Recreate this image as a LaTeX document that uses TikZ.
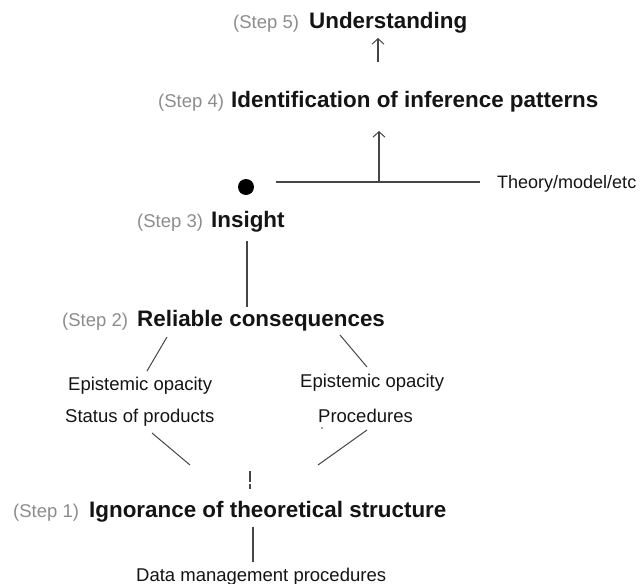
\documentclass[tikz,border=0pt]{standalone}
\usepackage{fontspec}
\setmainfont{Liberation Sans}
\usetikzlibrary{arrows.meta}
\definecolor{stepgray}{RGB}{140,140,140}
\definecolor{ink}{RGB}{20,20,20}
\definecolor{linegray}{RGB}{70,70,70}
\tikzset{
  steplbl/.style={anchor=base west, inner sep=0pt, text=stepgray, font=\fontsize{18.5}{22}\selectfont},
  title/.style={anchor=base west, inner sep=0pt, text=ink, font=\fontsize{22.4}{26}\selectfont\bfseries},
  plain/.style={anchor=base west, inner sep=0pt, text=ink, font=\fontsize{18.5}{22}\selectfont},
  conn/.style={draw=linegray, line width=1.2pt},
  arr/.style={conn, -{Straight Barb[length=5.5pt,width=12pt,line width=1pt]}}
}
\begin{document}
\begin{tikzpicture}[x=1pt,y=-1pt]
\useasboundingbox (0,0) rectangle (641,584);
% Step 5
\node[steplbl] (s5) at (233,28) {(Step 5)};
\node[title] (t5) at (309,28) {Understanding};
% Step 4
\node[steplbl] (s4) at (158,107) {(Step 4)};
\node[title] (t4) at (231,107) {Identification of inference patterns};
% Theory
\node[plain, font=\fontsize{18}{22}\selectfont] (th) at (497,188) {Theory/model/etc};
\fill[black] (246,187) circle[radius=8pt];
% Step 3
\node[steplbl] (s3) at (137,227) {(Step 3)};
\node[title] (t3) at (211,227) {Insight};
% Step 2
\node[steplbl] (s2) at (62,326) {(Step 2)};
\node[title] (t2) at (137,326) {Reliable consequences};
% opacity
\node[plain] (el) at (68,390) {Epistemic opacity};
\node[plain] (sp) at (65,422) {Status of products};
\node[plain] (er) at (300,387) {Epistemic opacity};
\node[plain] (pr) at (318,422) {Procedures};
% Step 1
\node[steplbl] (s1) at (13,517) {(Step 1)};
\node[title] (t1) at (89,517) {Ignorance of theoretical structure};
\node[plain] (dm) at (136,581) {Data management procedures};

% coordinates
\coordinate (a5b) at (378,62);
\coordinate (a5t) at (378,38);
\coordinate (a4b) at (379,182);
\coordinate (a4t) at (379,131);
\coordinate (hl) at (276,182);
\coordinate (hr) at (480,182);
\coordinate (i1) at (247,241);
\coordinate (i2) at (247,307);
\coordinate (l1a) at (167,337);
\coordinate (l1b) at (147,371);
\coordinate (r1a) at (340,335);
\coordinate (r1b) at (367,367);
\coordinate (l2a) at (152,433);
\coordinate (l2b) at (190,465);
\coordinate (r2a) at (367,430);
\coordinate (r2b) at (318,465);
\coordinate (m1) at (250,471);
\coordinate (m2) at (250,482);
\coordinate (m3) at (250,484);
\coordinate (m4) at (250,489);
\coordinate (d1) at (253,527);
\coordinate (d2) at (253,562);

\draw[arr] (a5b) -- (a5t);
\draw[arr] (a4b) -- (a4t);
\draw[conn] (hl) -- (hr);
\draw[conn] (i1) -- (i2);
\draw[conn, line width=1pt] (l1a) -- (l1b);
\draw[conn, line width=1pt] (r1a) -- (r1b);
\draw[conn, line width=1pt] (l2a) -- (l2b);
\draw[conn, line width=1pt] (r2a) -- (r2b);
\draw[conn] (m1) -- (m2);
\draw[conn] (m3) -- (m4);
\draw[conn] (d1) -- (d2);
\fill[linegray] (322,428) circle[radius=0.8pt];
\end{tikzpicture}
\end{document}
